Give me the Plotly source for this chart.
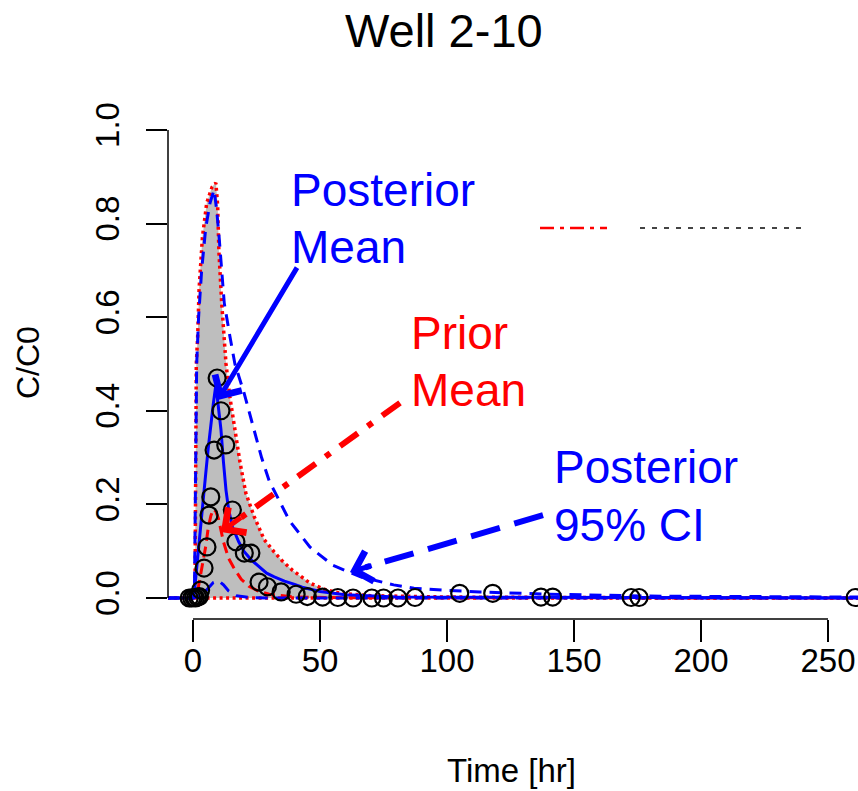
import plotly.graph_objects as go

# ---------------- data ----------------
obs_time = [-1.5, -0.5, 0.3, 1.0, 1.8, 2.5, 3.0, 4.35, 5.5, 6.3, 7.0, 8.3, 9.5, 11.0,
            12.9, 15.5, 16.9, 20.2, 22.8, 26.0, 29.3, 34.7, 40.6, 45.0, 51.0, 57.0,
            63.0, 70.4, 75.0, 80.7, 87.4, 105.0, 118.0, 137.0, 141.6, 172.5, 175.6, 260.7]
obs_conc = [0.0, 0.0, 0.001, 0.0, 0.002, 0.003, 0.017, 0.064, 0.109, 0.177, 0.216, 0.316,
            0.47, 0.40, 0.327, 0.188, 0.12, 0.096, 0.096, 0.034, 0.024, 0.013, 0.008,
            0.003, 0.002, 0.001, 0.0, 0.0, 0.0, 0.0, 0.001, 0.01, 0.01, 0.002, 0.002,
            0.001, 0.001, 0.001]

prior_time = [-10, 0, 0.8, 1.0, 1.15, 1.3, 1.85, 2.4, 3.7, 5.4, 7.5, 9.0, 9.7, 10.2,
              11.3, 12.3, 13.0, 14.5, 16.2, 18.5, 20.8, 24, 26, 28, 32, 35, 39, 46,
              52, 58, 70, 100, 150, 262]
prior_upper = [0, 0, 0.02, 0.15, 0.35, 0.5, 0.56, 0.66, 0.77, 0.844, 0.878, 0.887,
               0.84, 0.74, 0.63, 0.56, 0.5, 0.43, 0.365, 0.29, 0.224, 0.175, 0.15,
               0.125, 0.098, 0.08, 0.06, 0.032, 0.018, 0.01, 0.005, 0.002, 0.001, 0.0]
prior_lower = [0.0] * len(prior_time)

prior_mean_time = [-10, 0, 1, 2, 3, 4, 5, 6, 7, 8, 9, 10, 12, 14, 16, 19, 22, 26, 30,
                   40, 60, 262]
prior_mean = [0, 0, 0.005, 0.02, 0.05, 0.08, 0.11, 0.15, 0.175, 0.19, 0.185, 0.17,
              0.12, 0.085, 0.065, 0.04, 0.025, 0.014, 0.008, 0.002, 0.0005, 0.0]

post_time = [-10, 0, 0.5, 1, 2, 3, 4, 5, 6, 7, 8, 9, 10, 11, 12, 13, 14, 15.5, 18, 20,
             23, 26, 29, 32, 36, 40, 43, 50, 60, 80, 262]
post_mean = [0, 0, 0.01, 0.04, 0.095, 0.15, 0.21, 0.265, 0.32, 0.37, 0.415, 0.455,
             0.41, 0.36, 0.29, 0.23, 0.19, 0.152, 0.12, 0.10, 0.081, 0.066, 0.053,
             0.045, 0.036, 0.029, 0.023, 0.014, 0.007, 0.002, 0.0]

post_ci_time = [-10, 0, 0.6, 1.0, 1.2, 1.45, 2.2, 3.4, 5, 6.7, 8.3, 9.3, 10.3, 12.3,
                14.5, 16.5, 20, 24, 27, 30, 35, 38, 46, 55, 66, 79, 87, 100, 113, 140,
                180, 262]
post_upper = [0, 0, 0.03, 0.2, 0.38, 0.5, 0.6, 0.7, 0.79, 0.844, 0.872, 0.83, 0.77,
              0.63, 0.56, 0.5, 0.44, 0.36, 0.30, 0.25, 0.195, 0.165, 0.109, 0.07,
              0.045, 0.028, 0.021, 0.016, 0.013, 0.008, 0.004, 0.002]
post_lower_time = [-10, 0, 2, 5, 8, 10, 12, 14, 17, 22, 30, 262]
post_lower = [0, 0, 0.003, 0.015, 0.033, 0.037, 0.028, 0.015, 0.005, 0.001, 0.0, 0.0]

x_ticks = [0, 50, 100, 150, 200, 250]
y_ticks = [0.0, 0.2, 0.4, 0.6, 0.8, 1.0]
y_tick_text = ["0.0", "0.2", "0.4", "0.6", "0.8", "1.0"]

# arrows: (tail_time, tail_conc, tip_time, tip_conc)
arrow_post_mean = (41.3, 0.709, 9.84, 0.423)
arrow_prior_mean = (81.5, 0.417, 11.0, 0.141)
arrow_post_ci = (137.8, 0.177, 61.8, 0.0556)

FONT = "Liberation Sans, Arial, Helvetica, sans-serif"
BLUE = "#0000FF"
RED = "#FF0000"

# ---------------- figure ----------------
W, H = 858, 791
ML, MR, MT, MB = 168, 0, 129, 172
PW, PH = W - ML - MR, H - MT - MB


def px2paper(px, py):
    return (px - ML) / PW, (H - MB - py) / PH


fig = go.Figure()

fig.add_trace(go.Scatter(x=prior_time, y=prior_lower, mode="lines",
                         line=dict(color="rgba(0,0,0,0)", width=0), hoverinfo="skip",
                         showlegend=False))
fig.add_trace(go.Scatter(x=prior_time, y=prior_upper, mode="lines", fill="tonexty",
                         fillcolor="#BEBEBE", line=dict(color="rgba(0,0,0,0)", width=0),
                         showlegend=False))
fig.add_trace(go.Scatter(x=prior_time, y=prior_upper, mode="lines",
                         line=dict(color=RED, width=3.5, dash="3px,3.5px"), showlegend=False))
fig.add_trace(go.Scatter(x=prior_time, y=prior_lower, mode="lines",
                         line=dict(color=RED, width=3.5, dash="3px,3.5px"), showlegend=False))
fig.add_trace(go.Scatter(x=prior_mean_time, y=prior_mean, mode="lines",
                         line=dict(color=RED, width=3, dash="11px,6px"), showlegend=False))
fig.add_trace(go.Scatter(x=post_ci_time, y=post_upper, mode="lines",
                         line=dict(color=BLUE, width=3, dash="12px,8px"), showlegend=False))
fig.add_trace(go.Scatter(x=post_lower_time, y=post_lower, mode="lines",
                         line=dict(color=BLUE, width=3, dash="12px,8px"), showlegend=False))
fig.add_trace(go.Scatter(x=post_time, y=post_mean, mode="lines",
                         line=dict(color=BLUE, width=3), showlegend=False))
fig.add_trace(go.Scatter(x=obs_time, y=obs_conc, mode="markers",
                         marker=dict(symbol="circle-open", size=17, color="black",
                                     line=dict(width=2.2, color="black")),
                         showlegend=False))

shapes = []
# axis lines spanning only the tick range (R style)
shapes.append(dict(type="line", xref="x", yref="paper", x0=x_ticks[0], x1=x_ticks[-1],
                   y0=0, y1=0, line=dict(color="black", width=1.5)))
shapes.append(dict(type="line", xref="paper", yref="y", x0=0, x1=0, y0=y_ticks[0],
                   y1=y_ticks[-1], line=dict(color="black", width=1.5)))

annotations = []
# arrows
t0, c0, t1, c1 = arrow_post_mean
annotations.append(dict(x=t1, y=c1, ax=t0, ay=c0, xref="x", yref="y", axref="x",
                        ayref="y", text="", showarrow=True, arrowhead=4, arrowsize=1.2,
                        arrowwidth=5, arrowcolor=BLUE))
for (t0, c0, t1, c1), col, dash in [(arrow_prior_mean, RED, "22px,12px,6px,12px"),
                                    (arrow_post_ci, BLUE, "30px,15px")]:
    shapes.append(dict(type="line", xref="x", yref="y", x0=t0, y0=c0,
                       x1=t1 + 0.08 * (t0 - t1), y1=c1 + 0.08 * (c0 - c1),
                       line=dict(color=col, width=6, dash=dash)))
    annotations.append(dict(x=t1, y=c1, ax=t1 + 0.12 * (t0 - t1), ay=c1 + 0.12 * (c0 - c1),
                            xref="x", yref="y", axref="x", ayref="y", text="",
                            showarrow=True, arrowhead=4, arrowsize=1.2, arrowwidth=5,
                            arrowcolor=col))

# legend remnant
lx0, ly = px2paper(540, 228)
lx1, _ = px2paper(607, 228)
shapes.append(dict(type="line", xref="paper", yref="paper", x0=lx0, x1=lx1, y0=ly, y1=ly,
                   line=dict(color=RED, width=2.5, dash="14px,6px,4px,6px")))
gx0, _ = px2paper(640, 228)
gx1, _ = px2paper(808, 228)
shapes.append(dict(type="line", xref="paper", yref="paper", x0=gx0, x1=gx1, y0=ly, y1=ly,
                   line=dict(color="#444444", width=2, dash="5px,7px")))


def text_ann(txt, px, py, color, size, xanchor="left", angle=0):
    x, y = px2paper(px, py)
    return dict(text=txt, x=x, y=y, xref="paper", yref="paper", showarrow=False,
                xanchor=xanchor, yanchor="middle", textangle=angle,
                font=dict(family=FONT, size=size, color=color))


annotations += [
    text_ann("Posterior", 289, 190, BLUE, 46),
    text_ann("Mean", 289, 247, BLUE, 46),
    text_ann("Prior", 409, 333, RED, 46),
    text_ann("Mean", 409, 390, RED, 46),
    text_ann("Posterior", 552, 467, BLUE, 46),
    text_ann("95% CI", 552, 525, BLUE, 46),
    text_ann("Well 2-10", 444, 30, "black", 47, xanchor="center"),
    text_ann("Time [hr]", 511, 770, "black", 33, xanchor="center"),
    text_ann("C/C0", 28, 363, "black", 32, xanchor="center", angle=-90),
]

fig.update_layout(
    width=W, height=H, template="none",
    margin=dict(l=ML, r=MR, t=MT, b=MB, pad=0),
    paper_bgcolor="white", plot_bgcolor="white",
    showlegend=False,
    shapes=shapes, annotations=annotations,
    font=dict(family=FONT, color="black"),
    xaxis=dict(range=[-9.84, 261.8], tickvals=x_ticks, ticks="outside", ticklen=22,
               tickwidth=1.5, tickcolor="black", showgrid=False, zeroline=False,
               showline=False, automargin=False, ticklabelstandoff=-10,
               tickfont=dict(family=FONT, size=33, color="black")),
    yaxis=dict(range=[-0.0449, 1.002], tickvals=y_ticks, ticktext=y_tick_text,
               ticks="outside", ticklen=21, tickwidth=1.5, tickcolor="black",
               showgrid=False, zeroline=False, showline=False, automargin=False,
               tickangle=-90, ticklabelstandoff=14,
               tickfont=dict(family=FONT, size=33, color="black")),
)

fig.write_html("out.html")
